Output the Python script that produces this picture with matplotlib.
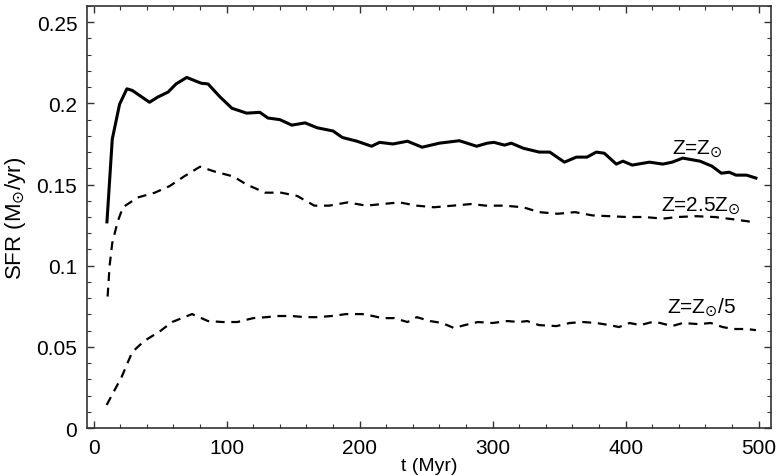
import matplotlib
matplotlib.use("Agg")
import matplotlib.pyplot as plt
from matplotlib.ticker import MultipleLocator

plt.rcParams['font.family'] = ['Liberation Sans', 'DejaVu Sans']
plt.rcParams['mathtext.fontset'] = 'dejavusans'

# Z = Z_sun (solid)
t_sun = [10, 14, 19.5, 25, 29, 42, 48, 56, 62, 70, 76, 81, 86, 95, 104, 115, 125, 131, 140,
         149, 159, 168, 180, 187, 198, 209, 215, 225, 236, 247, 260, 275, 288, 296, 301, 309,
         314, 323, 335, 343, 354, 363, 371, 378, 384, 393, 398, 405, 418, 428, 435, 443, 456,
         465, 472, 478, 483, 491, 498]
sfr_sun = [0.127, 0.178, 0.1995, 0.209, 0.208, 0.2007, 0.2038, 0.207, 0.212, 0.216, 0.214,
           0.2124, 0.212, 0.204, 0.197, 0.194, 0.1945, 0.191, 0.190, 0.1866, 0.188, 0.185,
           0.183, 0.179, 0.1767, 0.1736, 0.176, 0.175, 0.1767, 0.173, 0.1755, 0.177, 0.1736,
           0.1755, 0.176, 0.1743, 0.1755, 0.1724, 0.170, 0.170, 0.1638, 0.1669, 0.1669, 0.170,
           0.1693, 0.1626, 0.1644, 0.162, 0.1638, 0.1626, 0.1638, 0.1663, 0.1644, 0.1613,
           0.157, 0.1576, 0.1558, 0.1558, 0.154]

# Z = 2.5 Z_sun (dashed)
t_hi = [10.5, 12, 14, 18, 22, 33, 46, 57, 68, 80, 91, 105, 115, 129, 141, 153, 166, 177, 191,
        205, 217, 230, 243, 256, 270, 284, 295, 309, 323, 335, 349, 362, 375, 388, 401, 414,
        428, 439, 453, 467, 480, 495]
sfr_hi = [0.081, 0.100, 0.114, 0.127, 0.136, 0.142, 0.145, 0.149, 0.155, 0.161, 0.158, 0.155,
          0.150, 0.145, 0.145, 0.143, 0.137, 0.137, 0.139, 0.137, 0.138, 0.139, 0.137, 0.136,
          0.137, 0.138, 0.137, 0.137, 0.136, 0.133, 0.132, 0.133, 0.131, 0.1305, 0.130,
          0.130, 0.129, 0.130, 0.1305, 0.130, 0.1287, 0.127]

# Z = Z_sun / 5 (dashed)
t_lo = [9.8, 21, 29, 38, 50, 59, 74, 86, 97, 108, 120, 130, 138, 149, 159, 168, 179, 190, 202,
        210, 217, 226, 236, 243, 253, 262, 271, 279, 289, 300, 311, 320, 326, 335, 348, 358,
        368, 378, 388, 395, 403, 411, 420, 426, 435, 443, 455, 464, 473, 481, 491, 498]
sfr_lo = [0.0142, 0.0314, 0.0468, 0.0536, 0.0597, 0.0653, 0.0702, 0.0659, 0.0653, 0.0653,
          0.0677, 0.0683, 0.069, 0.069, 0.0683, 0.0683, 0.069, 0.0702, 0.0702, 0.069, 0.0677,
          0.0677, 0.0653, 0.0683, 0.0659, 0.0647, 0.0616, 0.0634, 0.0653, 0.0647, 0.0659,
          0.0653, 0.0659, 0.0634, 0.0628, 0.0647, 0.0653, 0.0647, 0.0634, 0.0622, 0.0647,
          0.0634, 0.0653, 0.0647, 0.0628, 0.0647, 0.064, 0.0647, 0.0622, 0.061, 0.061, 0.0603]

fig = plt.figure(figsize=(7.81, 4.77), dpi=100)
ax = fig.add_axes([0.1114, 0.1006, 0.8752, 0.8847])

ax.plot(t_sun, sfr_sun, color='black', linewidth=2.2, solid_joinstyle='round')
ax.plot(t_hi, sfr_hi, color='black', linewidth=1.6, dashes=(4, 3))
ax.plot(t_lo, sfr_lo, color='black', linewidth=1.6, dashes=(4, 3))

ax.text(435, 0.172, r'Z=Z$_{\odot}$', fontsize=15, va='center', ha='left')
ax.text(427, 0.137, r'Z=2.5Z$_{\odot}$', fontsize=15, va='center', ha='left')
ax.text(431, 0.0745, r'Z=Z$_{\odot}$/5', fontsize=15, va='center', ha='left')

ax.set_xlim(-5, 509)
ax.set_ylim(0, 0.26)
ax.xaxis.set_major_locator(MultipleLocator(100))
ax.xaxis.set_minor_locator(MultipleLocator(20))
ax.yaxis.set_minor_locator(MultipleLocator(0.01))
ax.set_yticks([0, 0.05, 0.1, 0.15, 0.2, 0.25])
ax.set_yticklabels(['0', '0.05', '0.1', '0.15', '0.2', '0.25'])

ax.tick_params(which='both', direction='in', top=True, right=True, labelsize=15, color='#333333')
ax.tick_params(which='major', length=5, width=1, pad=7)
ax.tick_params(which='minor', length=3, width=0.8)
for s in ax.spines.values():
    s.set_color('#333333')
    s.set_linewidth(1.2)

ax.set_xlabel('t (Myr)', fontsize=14, labelpad=0)
ax.set_ylabel(r'SFR (M$_{\odot}$/yr)', fontsize=16, labelpad=6)

fig.savefig('out.png', dpi=100)
